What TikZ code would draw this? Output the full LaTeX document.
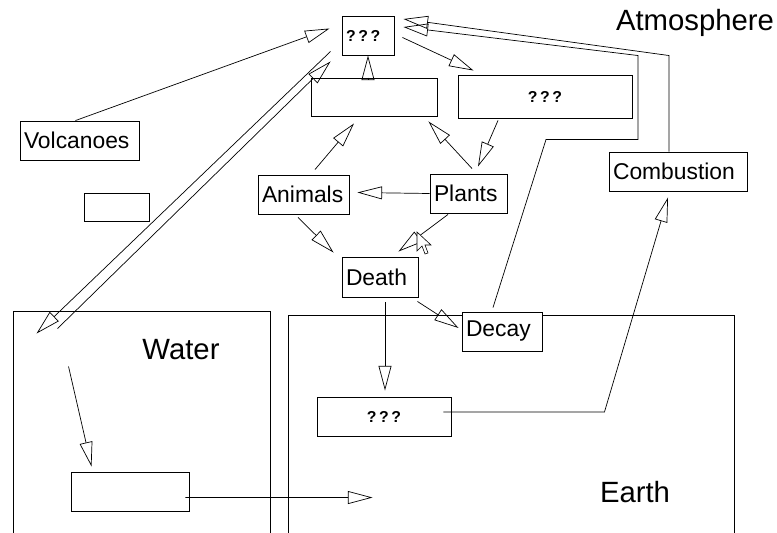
\documentclass[tikz,border=0pt]{standalone}
\usepackage{fontspec}
\setmainfont{Liberation Sans}
\usetikzlibrary{arrows.meta, calc}
\def\pw{0.03cm}

\begin{document}
\begin{tikzpicture}[x=\pw, y=-\pw,
    box/.style 2 args={draw, fill=white, rectangle, inner ysep=0pt, inner xsep=4*\pw,
        line width=0.8pt, text width=(#1-8)*\pw, align=left,
        minimum width=#1*\pw, minimum height=#2*\pw, font=\fontsize{19.5}{21}\selectfont},
    zone/.style 2 args={draw, rectangle, inner sep=0pt, line width=0.8pt,
        minimum width=#1*\pw, minimum height=#2*\pw},
    realm/.style={font=\fontsize{25}{28}\selectfont, anchor=base},
    qm/.style={font=\fontsize{13.5}{15}\selectfont\bfseries, align=center},
    flow/.style={line width=0.6pt, -{Triangle[open,length=21pt,width=11pt]}}]
    \useasboundingbox (0,0) rectangle (777,533);
    % regions
    \node[zone={257}{240}] (water) at (141.5,431) {};
    \node[zone={446}{240}] (earth) at (511,435) {};
    \path (695,30) node[realm] (atmo) {Atmosphere}
          (181,359) node[realm] (wlab) {Water}
          (635,502) node[realm] (elab) {Earth};
    % boxes
    \node[box={52}{39},qm,align=left] (q1) at (368,35.5) {?\,?\,?};
    \node[box={126}{38}] (air) at (374,97) {};
    \node[box={174}{43},qm] (q2) at (545,96.5) {?\,?\,?};
    \node[box={119}{39}] (volc) at (79.5,140.5) {Volcanoes};
    \node[box={65}{28}] (rock) at (116.5,207) {};
    \node[box={91}{39}] (animals) at (303.5,194.5) {Animals};
    \node[box={77}{39}] (plants) at (468.5,193.5) {Plants};
    \node[box={138}{39}] (comb) at (678,171.5) {Combustion};
    \node[box={76}{40}] (death) at (380,277) {Death};
    \node[box={80}{39}] (decay) at (502,331.5) {Decay};
    \node[box={134}{39},qm] (q3) at (384,416.5) {?\,?\,?};
    \node[box={118}{39}] (sea) at (130,491.5) {};
    % flows
    \draw[flow] ($(volc.north)+(-4,0)$) -- ($(q1.west)+(-12,-7)$);
    \draw[flow] ($(q1.south west)+(-11,-4)$) -- ($(water.north west)+(24,23)$);
    \draw[flow] ($(water.north west)+(45,18)$) -- ($(q1.south west)+(-11,6)$);
    \draw[flow] (air.north -| q1.south) -- (q1.south);
    \draw[flow] ($(q1.east)+(8,2)$) -- ($(q2.north west)+(16,-4)$);
    \draw[flow] ($(q2.south)+(-47,2)$) -- ($(plants.north)+(9.5,-7)$);
    \draw[flow] ($(plants.north)+(3.5,-5)$) -- ($(air.south east)+(-9,5)$);
    \draw[flow] ($(animals.north)+(11.5,-5)$) -- ($(air.south)+(-20,7)$);
    \draw[flow] (plants.west) -- ($(animals.east)+(8,-2)$);
    \draw[flow] ($(animals.south)+(-5.5,3)$) -- ($(death.north west)+(-8,-4)$);
    \draw[flow] ($(plants.south)+(-20.5,1)$) -- ($(death.north east)+(-20,-5)$);
    \draw[flow] ($(death.south east)+(-1,4)$) -- ($(decay.west)+(-3,-3.5)$);
    \draw[flow] ($(death.south)+(5,5)$) -- ($(q3.north)+(1,-6)$);
    \draw[flow] ($(water.north west)+(56,56)$) -- ($(sea.north west)+(21,-5)$);
    \draw[flow] ($(sea.east)+(-4,6)$) -- ($(earth.north west)+(85,183)$);
    \draw[flow] ($(q3.east)+(-8,-4.5)$) -- ++(161,0) -- ($(comb.south)+(-10,6)$);
    \draw[flow] ($(decay.north)+(-9,-4)$) -- ++(53,-168) -- ++(92,0) -- ++(0,-84)
                -- ($(q1.east)+(9,-8.5)$);
    \draw[flow] ($(comb.north)+(-9,0)$) -- ++(0,-96) -- ($(q1.east)+(9,-16.5)$);
    % pointer
    \draw[fill=white, line width=0.5pt, shift={(417,232)}]
        (0,0) -- (0,19) -- (5,14) -- (8,22) -- (11,21) -- (8,13) -- (14,13) -- cycle;
\end{tikzpicture}
\end{document}
